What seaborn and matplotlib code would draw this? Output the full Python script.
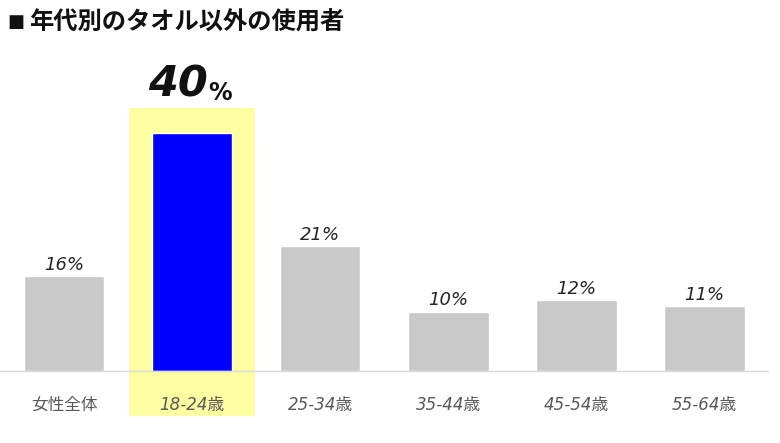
import matplotlib
matplotlib.use('Agg')
import matplotlib.pyplot as plt
from matplotlib.patches import Rectangle
import seaborn as sns
import pandas as pd

# data
categories = ['女性全体', '18-24歳', '25-34歳', '35-44歳', '45-54歳', '55-64歳']
values = [16, 40, 21, 10, 12, 11]
highlight = '18-24歳'
title_mark = '■'
title = '年代別のタオル以外の使用者'

sns.set_style('white')
plt.rcParams['font.family'] = ['DejaVu Sans', 'Noto Sans CJK JP']

df = pd.DataFrame({'group': categories, 'value': values})
palette = {c: ('#0000ff' if c == highlight else '#c9c9c9') for c in categories}

fig = plt.figure(figsize=(7.8, 4.43), dpi=100)
ax = fig.add_axes([0.0, 0.1625, 0.985, 0.698])

sns.barplot(data=df, x='group', y='value', hue='group', palette=palette,
            legend=False, width=0.63, saturation=1, ax=ax, zorder=3)

ax.set_xlim(-0.5, len(categories) - 0.5)
ax.set_ylim(0, 52)

# yellow highlight behind the 40% bar
hi = categories.index(highlight)
ax.add_patch(Rectangle((hi - 0.49, -7.6), 0.98, 51.8, facecolor='#fdfda2',
                       edgecolor='none', clip_on=False, zorder=1))

# value labels
for i, v in enumerate(values):
    if categories[i] == highlight:
        ax.annotate(f'{v}', (i, v), xytext=(11.5, 20), textcoords='offset points',
                    ha='right', va='bottom', fontsize=31, fontweight='bold',
                    style='italic', color='#111111', zorder=5)
        ax.annotate('%', (i, v), xytext=(12, 20), textcoords='offset points',
                    ha='left', va='bottom', fontsize=17, fontweight='bold',
                    color='#111111', zorder=5)
    else:
        ax.annotate(f'{v}%', (i, v), xytext=(0, 1.5), textcoords='offset points',
                    ha='center', va='bottom', fontsize=13, style='italic',
                    color='#262626', zorder=5)

ax.set_xlabel('')
ax.set_ylabel('')
ax.set_yticks([])
ax.set_xticks(range(len(categories)))
ax.set_xticklabels(categories)
for lab in ax.get_xticklabels():
    lab.set_fontsize(12)
    lab.set_color('#595959')
    if lab.get_text() != '女性全体':
        lab.set_style('italic')
ax.tick_params(axis='x', length=0, pad=18)
ax.xaxis.set_zorder(4)

for s in ['top', 'left', 'right']:
    ax.spines[s].set_visible(False)
ax.spines['bottom'].set_color('#d9d9d9')
ax.spines['bottom'].set_linewidth(1)
ax.spines['bottom'].set_zorder(4)

# title: small square marker, then the bold heading
fig.text(0.010, 0.95, title_mark, fontsize=13, fontweight='bold',
         family=['DejaVu Sans'], va='center', ha='left', color='#111111')
fig.text(0.037, 0.95, title, fontsize=17.5, fontweight='bold',
         family=['Noto Sans CJK JP', 'DejaVu Sans'], va='center', ha='left',
         color='#111111')

fig.savefig('out.png', dpi=100)
plt.close(fig)
